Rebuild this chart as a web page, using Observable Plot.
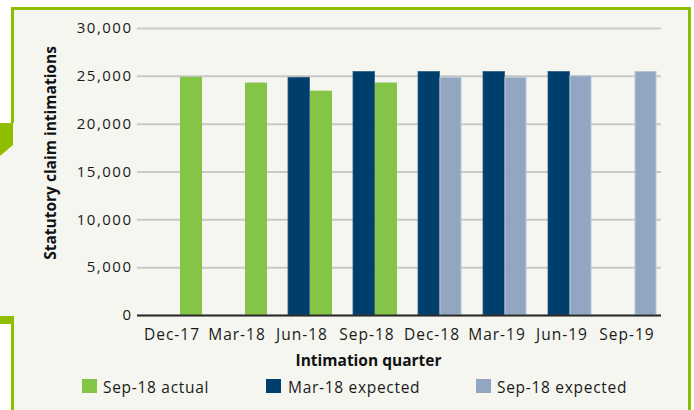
<!DOCTYPE html>
<html>
<head>
<meta charset="utf-8">
<script src="https://cdn.jsdelivr.net/npm/d3@7"></script>
<script src="https://cdn.jsdelivr.net/npm/@observablehq/plot@0.6"></script>
<style>
  html, body { margin: 0; padding: 0; background: #ffffff; }
  #page { position: relative; width: 694px; height: 410px; overflow: hidden; font-family: "Open Sans", sans-serif; }
  #frame { position: absolute; left: 11px; top: 7px; width: 680px; height: 410px; box-sizing: border-box;
           border: 3px solid #8fbe00; border-bottom: none; background: #f4f6ef; }
  #leftfill { position: absolute; left: 0; top: 123px; width: 15px; height: 193px; background: #f4f6ef; }
  #tab { position: absolute; left: 0; top: 123px; width: 13px; height: 33px; background: #8fbe00;
         clip-path: polygon(0 0, 100% 0, 100% 67%, 0 100%); }
  #bottab { position: absolute; left: 0; top: 316px; width: 13px; height: 8px; background: #8fbe00; }
  #chart { position: absolute; left: 0; top: 0; }
  #legend { position: absolute; left: 0; top: 0; width: 694px; height: 410px; pointer-events: none; }
  .sw { position: absolute; top: 379px; width: 15px; height: 14px; }
  .lt { position: absolute; top: 376px; font-size: 15.5px; color: #1a1a1a; letter-spacing: 0.7px; white-space: nowrap; }
  .xt text { letter-spacing: 1px; }
  .yt text { letter-spacing: 1.5px; }
</style>
</head>
<body>
<div id="page">
  <div id="frame"></div>
  <div id="leftfill"></div>
  <div id="tab"></div>
  <div id="bottab"></div>
  <div id="chart"></div>
  <div id="legend"></div>
</div>
<script>
const quarters = ["Dec-17","Mar-18","Jun-18","Sep-18","Dec-18","Mar-19","Jun-19","Sep-19"];
const sep18Actual   = [24900, 24300, 23450, 24300, null, null, null, null];
const mar18Expected = [null, null, 24850, 25450, 25450, 25450, 25450, null];
const sep18Expected = [null, null, null, null, 24850, 24850, 25000, 25450];
const yTicks = [0, 5000, 10000, 15000, 20000, 25000, 30000];
const seriesNames = ["Sep-18 actual", "Mar-18 expected", "Sep-18 expected"];
const seriesColors = ["#84c446", "#003f6b", "#92a6c2"];

const rows = (vals, s) => quarters.map((q, i) => ({q, v: vals[i], s})).filter(d => d.v != null);
const actualRows = rows(sep18Actual, seriesNames[0]);
const mar18Rows = rows(mar18Expected, seriesNames[1]);
const sep18Rows = rows(sep18Expected, seriesNames[2]);

const fontFam = "'Open Sans', sans-serif";

const plot = Plot.plot({
  width: 694,
  height: 370,
  marginLeft: 137,
  marginRight: 33,
  marginTop: 28,
  marginBottom: 55,
  style: { background: "transparent", fontFamily: fontFam, fontSize: "15px", color: "#1a1a1a" },
  x: { domain: quarters, padding: 0 },
  y: { domain: [0, 30000] },
  marks: [
    Plot.gridY(yTicks, { stroke: "#c9c9c9", strokeOpacity: 1, strokeWidth: 2 }),
    Plot.axisY(yTicks, { tickSize: 0, tickPadding: 5, tickFormat: d3.format(","), label: null, fontSize: 15, className: "yt" }),
    Plot.axisX({ tickSize: 0, tickPadding: 13, label: null, fontSize: 15.5, className: "xt" }),
    Plot.barY(mar18Rows, { x: "q", y: "v", fill: seriesColors[1], stroke: "#2f5e86", strokeWidth: 0.8, insetLeft: 19, insetRight: 24.5 }),
    Plot.barY(actualRows, { x: "q", y: "v", fill: seriesColors[0], insetLeft: 41, insetRight: 2 }),
    Plot.barY(sep18Rows, { x: "q", y: "v", fill: seriesColors[2], stroke: "#b9c6d6", strokeWidth: 1, insetLeft: 41, insetRight: 3 }),
    Plot.ruleY([0], { stroke: "#2a2a2a", strokeWidth: 2 }),
    Plot.text(["Intimation quarter"], { frameAnchor: "bottom", dx: -31, dy: 50, fontWeight: "bold", fontSize: 15.5, fill: "#111", letterSpacing: "0.3px" }),
    Plot.text(["Statutory claim intimations"], { frameAnchor: "left", textAnchor: "middle", rotate: -90, dx: -86, dy: -19, fontWeight: "bold", fontSize: 15.5, fill: "#111" })
  ]
});
document.getElementById("chart").appendChild(plot);

const legend = document.getElementById("legend");
const swX = [82, 266, 476];
const txX = [103, 288, 497];
seriesNames.forEach((n, i) => {
  const sw = document.createElement("div");
  sw.className = "sw"; sw.style.left = swX[i] + "px"; sw.style.background = seriesColors[i];
  legend.appendChild(sw);
  const t = document.createElement("div");
  t.className = "lt"; t.style.left = txX[i] + "px"; t.textContent = n;
  legend.appendChild(t);
});
</script>
</body>
</html>
